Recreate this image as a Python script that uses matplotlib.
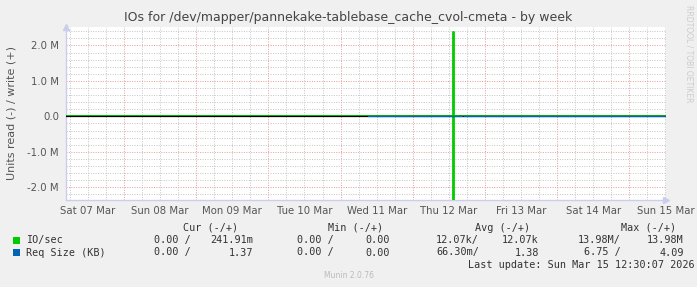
import numpy as np
import matplotlib
matplotlib.use("Agg")
import matplotlib.pyplot as plt

# hours since Sat 07 Mar 00:00
day_labels = ["Sat 07 Mar", "Sun 08 Mar", "Mon 09 Mar", "Tue 10 Mar", "Wed 11 Mar",
              "Thu 12 Mar", "Fri 13 Mar", "Sat 14 Mar", "Sun 15 Mar"]
x_start, x_end = 4.7, 204.2

# IO/sec (write positive, read negative), steps
io_time = [4.7, 133.5, 133.8, 204.2]
io_write = [0.0, 2.37e6, 0.0, 0.0]
io_read = [0.0, 2.40e6, 0.0, 0.0]

# Req Size (KB), gaps where no data
req_time = [105.1, 116.3, 116.4, 116.9, 136.4, 136.5, 137.0, 204.2]
req_write = [1.37, 1.37, np.nan, 1.37, 1.37, np.nan, 1.37, 1.37]

legend_rows = [
    ("IO/sec", "#00CC00", ["0.00 /", "241.91m", "0.00 /", "0.00", "12.07k/", "12.07k", "13.98M/", "13.98M"]),
    ("Req Size (KB)", "#0066B3", ["0.00 /", "1.37", "0.00 /", "0.00", "66.30m/", "1.38", "6.75 /", "4.09"]),
]
legend_headers = ["Cur (-/+)", "Min (-/+)", "Avg (-/+)", "Max (-/+)"]

W, H = 697, 287
fig = plt.figure(figsize=(W / 100, H / 100), dpi=100, facecolor="#F0F0F0")
ax = fig.add_axes([66 / W, (H - 200) / H, 600 / W, 173 / H])
ax.set_facecolor("white")

ax.set_xlim(x_start, x_end)
ax.set_ylim(-2.36e6, 2.52e6)

# grid
dots = (0, (1, 1.5))
for h in np.arange(6, 205, 6):
    if h % 24 == 0:
        ax.axvline(h, color="#E89A9A", lw=0.7, ls=dots, zorder=1)
    else:
        ax.axvline(h, color="#C4C4C4", lw=0.7, ls=dots, zorder=1)
for v in np.arange(-2.2e6, 2.51e6, 0.2e6):
    if abs(round(v / 1e6) * 1e6 - v) < 1 and abs(v) > 1:
        ax.axhline(v, color="#E89A9A", lw=0.7, ls=dots, zorder=1)
    else:
        ax.axhline(v, color="#C4C4C4", lw=0.7, ls=dots, zorder=1)

ax.step(io_time, io_write, where="post", color="#00CC00", lw=1.3, zorder=3)
ax.step(io_time, -np.array(io_read), where="post", color="#00CC00", lw=1.3, zorder=3)
ax.axhline(0, color="black", lw=0.9, zorder=4)
ax.plot(req_time, req_write, color="#0066B3", lw=0.9, zorder=5)

ax.set_yticks([-2e6, -1e6, 0, 1e6, 2e6])
ax.set_yticklabels(["-2.0 M", "-1.0 M", "0.0", "1.0 M", "2.0 M"])
ax.set_xticks([12 + 24 * i for i in range(len(day_labels))])
ax.set_xticklabels(day_labels)
ax.tick_params(axis="both", length=0, labelsize=7.3, colors="#555555", pad=5)
ax.tick_params(axis="x", pad=4)

for s in ["top", "right"]:
    ax.spines[s].set_visible(False)
for s in ["left", "bottom"]:
    ax.spines[s].set_color("#CCCCEE")
    ax.spines[s].set_linewidth(1.0)
ax.plot(1.0, 0, ">", color="#CCCCEE", ms=4, transform=ax.transAxes, clip_on=False)
ax.plot(0, 1.0, "^", color="#CCCCEE", ms=4, transform=ax.transAxes, clip_on=False)

ax.set_ylabel("Units read (-) / write (+)", fontsize=8, color="#555555", labelpad=8)

fig.text(0.5, 1 - 18 / H, "IOs for /dev/mapper/pannekake-tablebase_cache_cvol-cmeta - by week",
         ha="center", va="center", fontsize=9.0, color="#444444")
fig.text(689 / W, 1 - 5 / H, "RRDTOOL / TOBI OETIKER", rotation=270, ha="center", va="top",
         fontsize=5.5, color="#CCCCCC")

mono = "DejaVu Sans Mono"
fs = 7.3
header_right = [238, 383, 530, 676]
for hdr, xr in zip(legend_headers, header_right):
    fig.text(xr / W, 1 - 228 / H, hdr, ha="right", va="center", family=mono, fontsize=fs, color="#333333")

value_right = [191, 253, 334, 390, 479, 539, 621, 684]
for row, y in zip(legend_rows, [240, 252.5]):
    name, col, vals = row
    fig.patches.append(plt.Rectangle((13 / W, 1 - (y + 3.5) / H), 7 / W, 7 / H,
                                     transform=fig.transFigure, facecolor=col, edgecolor="none"))
    fig.text(26 / W, 1 - y / H, name, ha="left", va="center", family=mono, fontsize=fs, color="#333333")
    for v, xr in zip(vals, value_right):
        fig.text(xr / W, 1 - y / H, v, ha="right", va="center", family=mono, fontsize=fs, color="#333333")

fig.text(695 / W, 1 - 264.5 / H, "Last update: Sun Mar 15 12:30:07 2026", ha="right", va="center",
         family=mono, fontsize=fs, color="#333333")
fig.text(0.5, 1 - 276 / H, "Munin 2.0.76", ha="center", va="center", fontsize=5.5, color="#BBBBBB")

fig.savefig("out.png", dpi=100, facecolor=fig.get_facecolor())
